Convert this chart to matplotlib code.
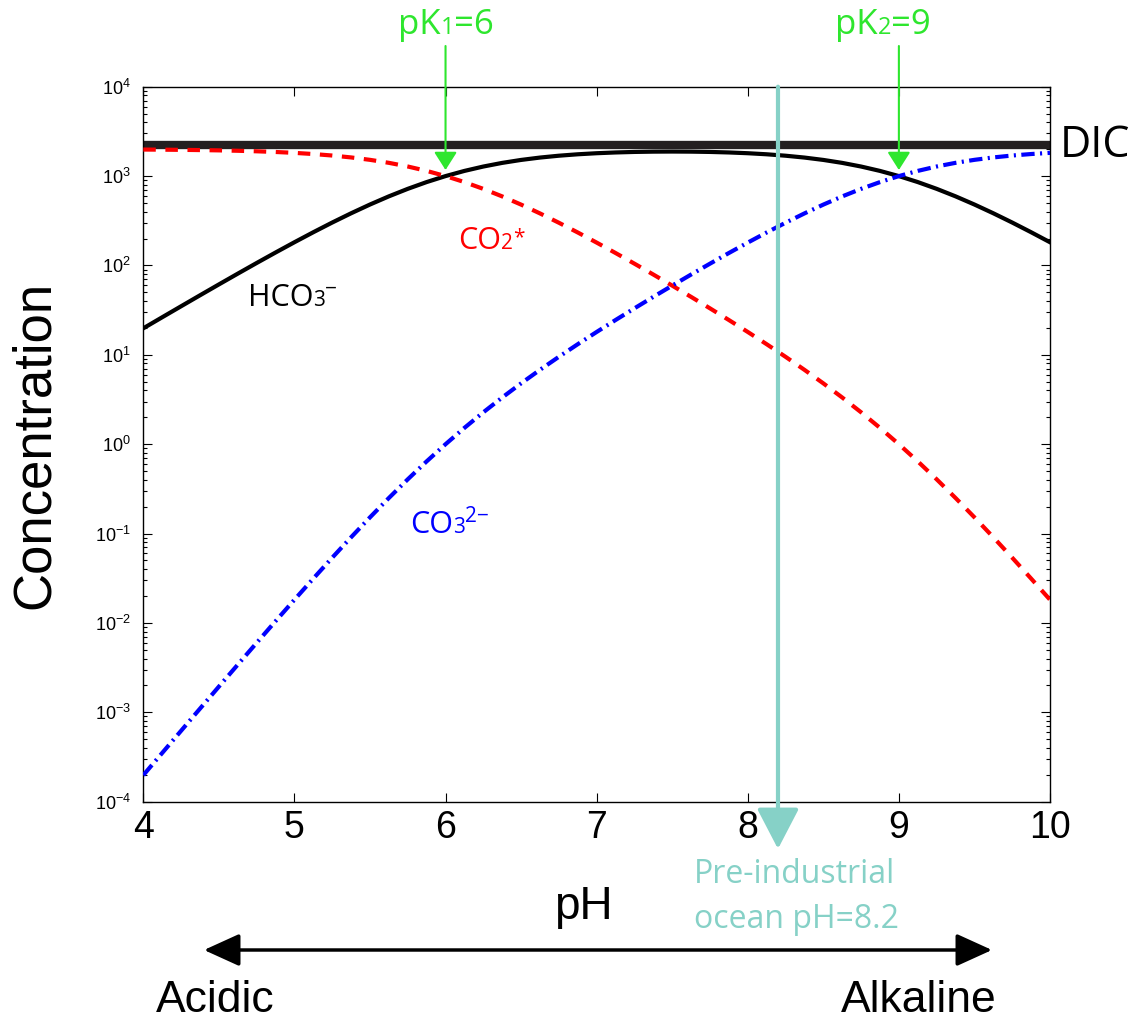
import numpy as np
import matplotlib
matplotlib.use('Agg')
import matplotlib.pyplot as plt
from matplotlib.ticker import LogLocator, NullLocator, FixedLocator

plt.rcParams['font.family'] = ['Liberation Sans', 'DejaVu Sans']

# ----- DATA (DIC = 2000) -----
ph = [4.0, 4.125, 4.25, 4.375, 4.5, 4.625, 4.75, 4.875, 5.0, 5.125, 5.25, 5.375,
      5.5, 5.625, 5.75, 5.875, 6.0, 6.125, 6.25, 6.375, 6.5, 6.625, 6.75, 6.875,
      7.0, 7.125, 7.25, 7.375, 7.5, 7.625, 7.75, 7.875, 8.0, 8.125, 8.25, 8.375,
      8.5, 8.625, 8.75, 8.875, 9.0, 9.125, 9.25, 9.375, 9.5, 9.625, 9.75, 9.875,
      10.0]
co2 = [1980.2, 1973.7, 1965.0, 1953.7, 1938.7, 1919.1, 1893.5, 1860.5, 1818.2,
       1764.6, 1698.0, 1616.6, 1519.4, 1406.6, 1279.9, 1142.6, 999.5, 856.4,
       719.0, 592.2, 479.4, 382.1, 300.5, 233.8, 180.2, 137.81, 104.7, 79.13,
       59.48, 44.50, 33.11, 24.51, 18.02, 13.146, 9.503, 6.794, 4.794, 3.330,
       2.274, 1.523, 0.9995, 0.6425, 0.4047, 0.2501, 0.1519, 0.09091, 0.0537,
       0.03138, 0.01818]
hco3 = [19.80, 26.32, 34.94, 46.33, 61.31, 80.93, 106.5, 139.5, 181.8, 235.3,
        302.0, 383.4, 480.5, 593.2, 719.7, 856.8, 999.5, 1142.1, 1278.7, 1404.5,
        1515.8, 1611.1, 1690.0, 1753.1, 1801.8, 1837.7, 1862.2, 1876.4, 1881.0,
        1876.4, 1862.2, 1837.7, 1801.8, 1753.1, 1690.0, 1611.1, 1515.8, 1404.5,
        1278.7, 1142.1, 999.5, 856.8, 719.7, 593.2, 480.5, 383.4, 302.0, 235.3,
        181.8]
co3 = [1.98e-4, 3.510e-4, 6.214e-4, 1.0986e-3, 1.939e-3, 3.413e-3, 5.988e-3,
       0.010462, 0.01818, 0.03138, 0.0537, 0.09091, 0.1519, 0.2501, 0.4047,
       0.6425, 0.9995, 1.523, 2.274, 3.330, 4.794, 6.794, 9.503, 13.146, 18.02,
       24.51, 33.11, 44.50, 59.48, 79.13, 104.7, 137.81, 180.2, 233.8, 300.5,
       382.1, 479.4, 592.2, 719.0, 856.4, 999.5, 1142.6, 1279.9, 1406.6, 1519.4,
       1616.6, 1698.0, 1764.6, 1818.2]
dic_level = 2230
pk1 = 6
pk2 = 9
ocean_ph = 8.2
x_ticks = [4, 5, 6, 7, 8, 9, 10]

W, H = 1137, 1023
green = '#2ee62e'
teal = '#86d1c7'
osans = 'Open Sans'


def fx(px):
    return px / W


def fy(py):
    return 1 - py / H


fig = plt.figure(figsize=(W / 100, H / 100), dpi=100)
ax = fig.add_axes([fx(143.3), fy(801.7), (1050 - 143.3) / W, (801.7 - 86.7) / H])
renderer = fig.canvas.get_renderer()


# text made of pieces on one baseline: (string, fontsize, raise in px)
def chain(px, py, pieces, color):
    x = px
    for s, size, dy in pieces:
        t = fig.text(fx(x), fy(py - dy), s, fontsize=size, family=osans,
                     color=color, ha='left', va='baseline')
        x += t.get_window_extent(renderer=renderer).width


ax.axhline(dic_level, color='#231f20', lw=6, zorder=2)
ax.plot(ph, hco3, color='black', lw=3, zorder=3)
ax.plot(ph, co2, color='red', lw=3, dashes=(3.0, 2.3), zorder=3)
ax.plot(ph, co3, color='blue', lw=3, dashes=(3.2, 1.3, 0.5, 1.3), zorder=3)

ax.set_yscale('log')
ax.set_xlim(4, 10)
ax.set_ylim(1e-4, 1e4)
ax.xaxis.set_major_locator(FixedLocator(x_ticks))
ax.xaxis.set_minor_locator(NullLocator())
ax.yaxis.set_major_locator(LogLocator(base=10, numticks=20))
ax.yaxis.set_minor_locator(LogLocator(base=10, subs=np.arange(2, 10), numticks=100))

ax.tick_params(which='both', direction='in', top=True, right=True, width=0.8)
ax.tick_params(which='major', length=6.5)
ax.tick_params(which='minor', length=3.2)
ax.tick_params(axis='x', labelsize=27, pad=6)
ax.tick_params(axis='y', labelsize=13, pad=9)
for s in ax.spines.values():
    s.set_linewidth(1.0)

# axis labels
fig.text(fx(35), fy(445), 'Concentration', rotation=90, ha='center', va='center', fontsize=38)
fig.text(fx(583), fy(919), 'pH', ha='center', va='baseline', fontsize=33)

# curve labels
fig.text(fx(1060), fy(157), 'DIC', ha='left', va='baseline', fontsize=31, family=osans)
chain(248, 306, [('HCO', 22, 0), ('3', 15, 0), ('\u2212', 15, 11)], 'black')
chain(458, 249, [('CO', 22, 0), ('2', 15, 0), ('*', 15, 6)], 'red')
chain(410, 533, [('CO', 22, 0), ('3', 15, 0), ('2\u2212', 15, 11)], 'blue')

# pK arrows
chain(398, 34, [('pK', 25, 0), ('1', 17, 0), ('=6', 25, 0)], green)
chain(835, 34, [('pK', 25, 0), ('2', 17, 0), ('=9', 25, 0)], green)
for pk in [pk1, pk2]:
    ax.annotate('', xy=(pk, 1170), xycoords='data',
                xytext=(pk, fy(46)), textcoords=('data', 'figure fraction'),
                arrowprops=dict(arrowstyle='-|>,head_length=11,head_width=7',
                                mutation_scale=1, color=green, lw=1.5,
                                shrinkA=0, shrinkB=0),
                annotation_clip=False, zorder=6)

# pre-industrial ocean pH
ax.annotate('', xy=(ocean_ph, -0.066), xycoords=('data', 'axes fraction'),
            xytext=(ocean_ph, 1.0), textcoords=('data', 'axes fraction'),
            arrowprops=dict(arrowstyle='-|>,head_length=25,head_width=13',
                            mutation_scale=1, color=teal, lw=3,
                            shrinkA=0, shrinkB=0),
            annotation_clip=False, zorder=7)
fig.text(fx(694), fy(883), 'Pre-industrial', ha='left', va='baseline',
         fontsize=23, family=osans, color=teal)
fig.text(fx(694), fy(928), 'ocean pH=8.2', ha='left', va='baseline',
         fontsize=23, family=osans, color=teal)

# acidic / alkaline arrow
ax.annotate('', xy=(fx(992), fy(950)), xycoords='figure fraction',
            xytext=(fx(204), fy(950)), textcoords='figure fraction',
            arrowprops=dict(arrowstyle='<|-|>,head_length=22,head_width=10',
                            mutation_scale=1, color='black', lw=2.5,
                            shrinkA=0, shrinkB=0),
            annotation_clip=False)
fig.text(fx(156), fy(1012), 'Acidic', ha='left', va='baseline', fontsize=32)
fig.text(fx(841), fy(1012), 'Alkaline', ha='left', va='baseline', fontsize=32)

fig.savefig('out.png', dpi=100)
